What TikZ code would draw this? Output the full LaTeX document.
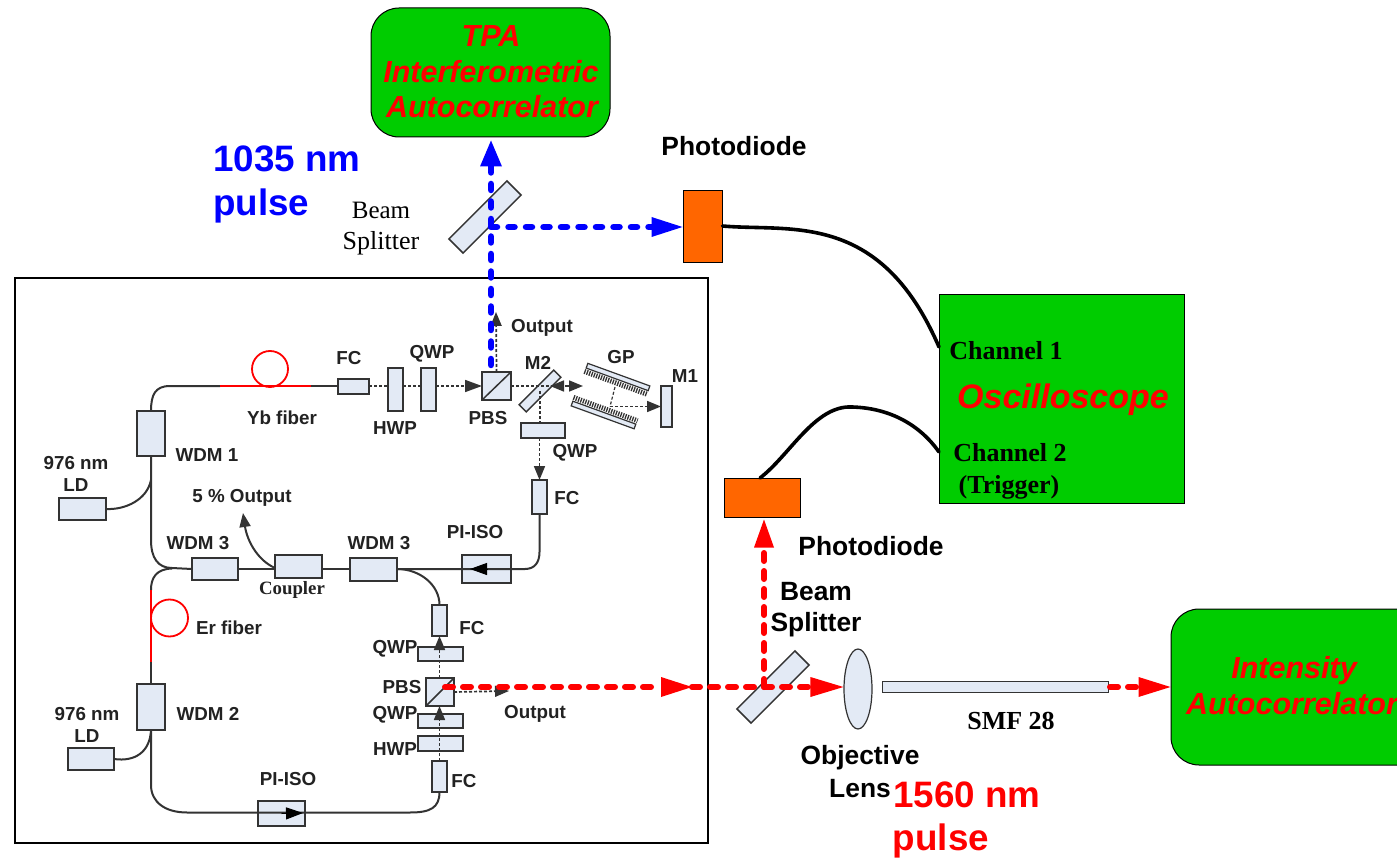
\documentclass[tikz,border=0pt]{standalone}
\usepackage{fontspec}
\setmainfont{Liberation Sans}
\newfontfamily\serifff{Liberation Serif}
\usetikzlibrary{arrows.meta,shapes.geometric,calc}
\definecolor{boxfill}{HTML}{E3EAF5}
\definecolor{boxline}{HTML}{333333}
\definecolor{gbox}{HTML}{00CC00}
\definecolor{pd}{HTML}{FF6600}
\definecolor{txt}{HTML}{222222}
\newcommand{\fsz}[1]{\fontsize{#1}{#1}\selectfont}
\tikzset{
 x=1pt,y=-1pt,
 comp/.style={draw=boxline,fill=boxfill,line width=2pt,inner sep=0pt,outer sep=0pt,minimum width=#1},
 comp/.default=10pt,
 lab/.style={inner sep=0pt,text=txt,yshift=-1pt,font=\fsz{18.8}\bfseries},
 big/.style={inner sep=0pt,font=\fsz{36.8}\bfseries},
 sblab/.style={inner sep=0pt,font=\fsz{26.4}\bfseries,align=center},
 serlab/.style={inner sep=0pt,font=\serifff\fsz{26}\bfseries},
 redital/.style={inner sep=0pt,text=red,font=\fsz{30.5}\bfseries\itshape},
 fiber/.style={draw=boxline,line width=2pt},
 redfiber/.style={draw=red,line width=1.8pt},
 beam/.style={draw=boxline,line width=1.7pt,dash pattern=on 3pt off 2pt},
 tipb/.style={-{Triangle[length=17pt,width=12pt]}},
 tips/.style={-{Triangle[length=14pt,width=11pt]}},
 bluebeam/.style={draw=blue,line width=6.5pt,line cap=round,dash pattern=on 6pt off 11.5pt},
 redbeam/.style={draw=red,line width=6pt,line cap=round,dash pattern=on 8pt off 10pt},
 bluetip/.style={fill=blue,draw=none},
 redtip/.style={fill=red,draw=none},
 greenbox/.style={draw=black,fill=gbox,line width=1pt},
 pdbox/.style={draw=black,fill=pd,line width=1pt},
 splitter/.style={draw=boxline,fill=boxfill,line width=1.5pt,inner sep=0pt,rotate=45},
 grating/.style={draw=boxline,fill=boxfill,line width=1.2pt,inner sep=0pt,rotate=-20},
}
\begin{document}
\begin{tikzpicture}
\clip (0,0) rectangle (1397,858);
\fill[white] (0,0) rectangle (1397,858);
% frame
\node[draw=black,line width=2pt,inner sep=0pt,minimum width=693pt,minimum height=565pt] (frame) at (361.5,560.5) {};
% top and right instruments
\node[greenbox,rounded corners=28pt,minimum width=239pt,minimum height=129pt] (tpa) at (490.5,72.5) {};
\node[redital] (tpa1) at (491,36) {TPA};
\node[redital] (tpa2) at (491,72) {Interferometric};
\node[redital] (tpa3) at (492,107) {Autocorrelator};
\node[greenbox,minimum width=245pt,minimum height=208pt] (osc) at (1061.5,399) {};
\node[serlab] (ch1) at (1006,351) {Channel 1};
\node[inner sep=0pt,text=red,font=\fsz{34}\bfseries\itshape] (osct) at (1063,400) {Oscilloscope};
\node[serlab] (ch2) at (1010,453) {Channel 2};
\node[serlab] (trg) at (1009,487) {(Trigger)};
\node[greenbox,rounded corners=28pt,minimum width=260pt,minimum height=156pt] (iac) at (1301,687) {};
\node[redital] (iac1) at (1294,671) {Intensity};
\node[redital] (iac2) at (1292,704) {Autocorrelator};
% photodiodes
\node[pdbox,minimum width=39pt,minimum height=72pt] (pd1) at (702.5,227) {};
\node[pdbox,minimum width=76pt,minimum height=39pt] (pd2) at (762,497.5) {};
\node[sblab] (pd1t) at (734,146) {Photodiode};
\node[sblab] (pd2t) at (871,546) {Photodiode};
\coordinate (ch1in) at (939,347);
\coordinate (ch2in) at (939,452);
\draw[line width=3.6pt,line cap=round] (pd1.east) ++(0,-1) .. controls (790,232) and (880,210) .. (ch1in);
\draw[line width=3.6pt,line cap=round] (760,478) .. controls (790,455) and (815,405) .. (852,407) .. controls (890,408) and (920,425) .. (ch2in);
% splitters
\node[splitter,minimum width=82pt,minimum height=20pt] (bs1) at (485,217) {};
\node[splitter,minimum width=82pt,minimum height=20pt] (bs2) at (773,687) {};
\node[inner sep=0pt,font=\serifff\fsz{25}] (bs1a) at (381,210) {Beam};
\node[inner sep=0pt,font=\serifff\fsz{26}] (bs1b) at (381,243) {Splitter};
\node[sblab] (bs2a) at (816,592) {Beam};
\node[sblab] (bs2b) at (816,625) {Splitter};
% lens and fibre
\node[ellipse,draw=boxline,fill=boxfill,line width=1.2pt,inner sep=0pt,minimum width=28pt,minimum height=80pt] (lens) at (858,689) {};
\node[draw=boxline,fill=boxfill,line width=1pt,inner sep=0pt,minimum width=226pt,minimum height=11pt] (smf) at (995,686.5) {};
\node[serlab] (smft) at (1011,721) {SMF 28};
\node[sblab] (obj) at (860,758) {Objective};
\node[sblab] (lenst) at (860,789) {Lens};
% big labels
\node[big,text=blue,anchor=west] (b1) at (213,159) {1035 nm};
\node[big,text=blue,anchor=west] (b2) at (213,206) {pulse};
\node[big,text=red] (r1) at (967,795) {1560 nm};
\node[big,text=red] (r2) at (941,841) {pulse};
% ---- cavity components
\node[comp=28pt,minimum height=45pt] (wdm1) at (151,433.5) {};
\node[comp=47pt,minimum height=22pt] (ld1) at (82.5,509) {};
\node[comp=28pt,minimum height=46pt] (wdm2) at (151,707) {};
\node[comp=46pt,minimum height=22pt] (ld2) at (91,759) {};
\node[comp=46pt,minimum height=22pt] (wdm3a) at (215,569) {};
\node[comp=47pt,minimum height=23pt] (coup) at (298.5,566) {};
\node[comp=47pt,minimum height=23pt] (wdm3b) at (373.5,569) {};
\node[comp=49pt,minimum height=28pt] (isoa) at (486.5,569) {};
\node[comp=47pt,minimum height=25pt] (isob) at (281.5,813.5) {};
\node[comp=31pt,minimum height=15pt] (fc1) at (353.5,386) {};
\node[comp=15pt,minimum height=43pt] (hwp1) at (395.5,389.5) {};
\node[comp=15pt,minimum height=43pt] (qwp1) at (428.5,389.5) {};
\node[comp=29pt,minimum height=28pt] (pbs1) at (496.5,386) {};
\node[splitter,minimum width=49pt,minimum height=10pt] (m2) at (540,391) {};
\node[comp=44pt,minimum height=15pt] (qwp2) at (543,430.5) {};
\node[comp=15pt,minimum height=34pt] (fc2) at (539.5,497) {};
\node[comp=15pt,minimum height=31pt] (fc3) at (439.5,620.5) {};
\node[comp=45pt,minimum height=14pt] (qwp3) at (440.5,654) {};
\node[comp=28pt,minimum height=28pt] (pbs2) at (440,692) {};
\node[comp=45pt,minimum height=14pt] (qwp4) at (440.5,721) {};
\node[comp=45pt,minimum height=15pt] (hwp2) at (440.5,743.5) {};
\node[comp=15pt,minimum height=31pt] (fc4) at (439.5,776.5) {};
\node[comp=11pt,minimum height=41pt] (m1) at (666.5,406.5) {};
% gratings
\node[grating,minimum width=66pt,minimum height=5pt] (gp1) at (618,377) {};
\node[grating,minimum width=67pt,minimum height=5pt] (gp2) at (603.5,415) {};
\draw[line width=5pt,dash pattern=on 1.3pt off 1.2pt,boxline] ($(gp1.south west)+(-1,3)$) -- ($(gp1.south east)+(-1,3)$);
\draw[line width=5pt,dash pattern=on 1.3pt off 1.2pt,boxline] ($(gp2.north west)+(1,-3)$) -- ($(gp2.north east)+(1,-3)$);
% PBS diagonals
\draw[boxline,line width=1.5pt] (pbs1.south west) -- (pbs1.north east);
\draw[boxline,line width=1.5pt] (pbs2.south west) -- (pbs2.north east);
% ---- fibres
\coordinate (yb1) at (220,386);
\coordinate (yb2) at (311,386);
\draw[fiber] (wdm1.north) .. controls (151,395) and (155,386) .. (170,386) -- (yb1);
\draw[fiber] (yb2) -- (fc1.west);
\draw[redfiber] (yb1) -- (yb2);
\node[circle,draw=red,line width=1.8pt,minimum size=36pt,inner sep=0pt] (ybloop) at (270,369) {};
\draw[fiber] (wdm1.south) -- (151,540) .. controls (151,558) and (158,568) .. (172,568) -- (wdm3a.west);
\draw[fiber] (ld1.east) .. controls (125,510) and (147,500) .. (151,480);
\draw[fiber] (wdm3a.east) -- (coup.west |- wdm3a.east);
\draw[fiber] (coup.east |- wdm3a.east) -- (wdm3b.west);
\coordinate (isoaend) at (525,569);
\draw[fiber] (wdm3b.east) -- (isoaend) .. controls (535,569) and (539.5,562) .. (539.5,552) -- (fc2.south);
\draw[fiber] (wdm3b.east) .. controls (420,569) and (439.5,585) .. (fc3.north);
\coordinate (er1) at (151,590);
\coordinate (er2) at (151,662);
\draw[fiber] (er1) .. controls (151,578) and (156,569) .. (172,568.5);
\draw[fiber] (er2) -- (wdm2.north);
\draw[redfiber] (er1) -- (er2);
\node[circle,draw=red,line width=1.8pt,minimum size=37pt,inner sep=0pt] (erloop) at (169.5,618) {};
\draw[fiber] (ld2.east) .. controls (135,762) and (150,752) .. (151,730);
\coordinate (isobr) at (410,812.5);
\draw[fiber] (wdm2.south) -- (151,785) .. controls (151,802) and (165,812.5) .. (187,812.5) -- (isobr) .. controls (430,812.5) and (439.5,808) .. (fc4.south);
% isolator arrows
\coordinate (isoatip) at (470,569);
\coordinate (isobtip) at (303,813);
\draw[tipb,draw=black,line width=1pt] (isoa.center) -- (isoatip);
\draw[tipb,draw=black,line width=1pt] (isob.center) -- (isobtip);
% output arrow
\coordinate (out5) at (243,513);
\draw[fiber,tips] (coup.west) ++(0,2) .. controls (257,560) and (247,540) .. (out5);
% ---- free-space beams
\draw[beam] (fc1.east) -- (hwp1.west |- fc1.east);
\draw[beam] (hwp1.east |- fc1.east) -- (qwp1.west |- fc1.east);
\draw[beam,tipb] (qwp1.east |- pbs1.west) -- (pbs1.west);
\coordinate (out1) at (496,312);
\draw[beam,tips] (pbs1.north) -- (out1);
\coordinate (gr1) at (583,386);
\coordinate (gr2) at (550,386);
\draw[beam,tips] (pbs1.east) -- (gr1);
\draw[beam,tips] (578,386) -- (gr2);
\coordinate (g1) at (615,387);
\coordinate (g2) at (610,406.5);
\draw[beam,line width=1.2pt] (g1) -- (g2);
\draw[beam,tips] (g2) -- (m1.west |- g2);
\draw[beam] (m2.center) -- (qwp2.north -| m2.center);
\draw[beam,tips] (qwp2.south -| fc2.north) -- (fc2.north);
\draw[beam,tips] (fc4.north) -- (pbs2.south -| fc4.north);
\draw[beam,tips] (pbs2.north -| fc3.south) -- (fc3.south);
\coordinate (out2) at (509,691);
\draw[beam,tips] (pbs2.east) -- (out2);
% ---- cavity labels
\node[lab] (t1) at (349,357) {FC};
\node[lab] (t2) at (432,353) {QWP};
\node[lab] (t3) at (395,427) {HWP};
\node[lab] (t4) at (488,417) {PBS};
\node[lab] (t5) at (542,327) {Output};
\node[lab] (t6) at (538,362) {M2};
\node[lab] (t7) at (621,356) {GP};
\node[lab] (t8) at (685,375) {M1};
\node[lab] (t9) at (575,452) {QWP};
\node[lab] (t10) at (567,497) {FC};
\node[lab] (t11) at (475,531) {PI-ISO};
\node[lab] (t12) at (379,542) {WDM 3};
\node[lab] (t13) at (198,542) {WDM 3};
\node[lab] (t14) at (207,454) {WDM 1};
\node[lab] (t15) at (282,417) {Yb fiber};
\node[lab] (t16) at (242,497) {5 \% Output};
\node[lab] (t17) at (76,462) {976 nm};
\node[lab] (t18) at (76,484) {LD};
\node[inner sep=0pt,text=txt,font=\serifff\fsz{18.8}\bfseries] (t19) at (292,590) {Coupler};
\node[lab] (t20) at (229,627) {Er fiber};
\node[lab] (t21) at (208,713) {WDM 2};
\node[lab] (t22) at (87,713) {976 nm};
\node[lab] (t23) at (87,735) {LD};
\node[lab] (t24) at (288,778) {PI-ISO};
\node[lab] (t25) at (472,627) {FC};
\node[lab] (t26) at (395,648) {QWP};
\node[lab] (t27) at (402,686) {PBS};
\node[lab] (t28) at (395,714) {QWP};
\node[lab] (t29) at (395,748) {HWP};
\node[lab] (t30) at (464,780) {FC};
\node[lab] (t31) at (535,713) {Output};
% ---- thick beams
\coordinate (bstart) at (491,365);
\coordinate (bsplit) at (491,227);
\coordinate (rstart) at (445,687);
\coordinate (rmid) at (692,687);
\coordinate (rsplit) at (764,687);
\coordinate (r2start) at (1110,687);
\draw[bluebeam] (bstart) -- (491,160);
\draw[bluetip] (tpa.south -| bstart) ++(0,3) -- ++(-11,26) -- ++(22,0) -- cycle;
\draw[bluebeam] (bsplit) -- (652,227);
\draw[bluetip] (pd1.west) -- ++(-31,-10) -- ++(0,20) -- cycle;
\draw[redbeam] (rstart) -- (660,687);
\draw[redtip] (rmid) -- ++(-31,-10) -- ++(0,20) -- cycle;
\draw[redbeam] (rmid) -- (812,687);
\draw[redtip] (lens.west) ++(0,-2) -- ++(-33,-10) -- ++(0,20) -- cycle;
\draw[redbeam] (rsplit) -- (764,548);
\draw[redtip] (pd2.south -| rsplit) ++(0,2) -- ++(-10,28) -- ++(20,0) -- cycle;
\draw[redbeam] (r2start) -- (1138,687);
\draw[redtip] (iac.west) -- ++(-32,-10) -- ++(0,20) -- cycle;
\end{tikzpicture}
\end{document}
